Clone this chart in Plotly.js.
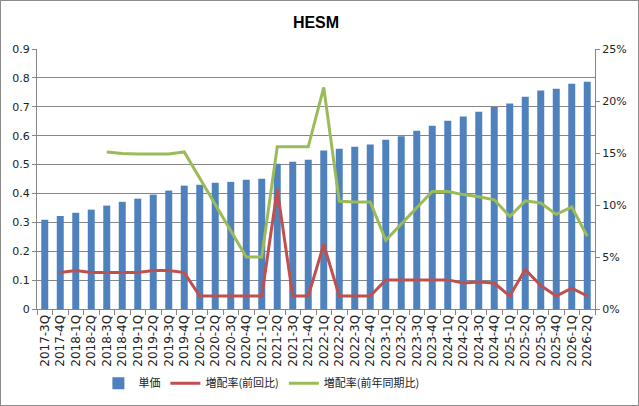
<!DOCTYPE html>
<html>
<head>
<meta charset="utf-8">
<script src="https://cdn.plot.ly/plotly-3.0.1.min.js"></script>
<style>
html,body{margin:0;padding:0;background:#fff;}
#wrap{width:637px;height:404px;border:1px solid #8c8c8c;}
#chart{width:637px;height:404px;}
</style>
</head>
<body>
<div id="wrap"><div id="chart"></div></div>
<script>
var categories = ["2017-3Q","2017-4Q","2018-1Q","2018-2Q","2018-3Q","2018-4Q","2019-1Q","2019-2Q","2019-3Q","2019-4Q",
"2020-1Q","2020-2Q","2020-3Q","2020-4Q","2021-1Q","2021-2Q","2021-3Q","2021-4Q","2022-1Q","2022-2Q",
"2022-3Q","2022-4Q","2023-1Q","2023-2Q","2023-3Q","2023-4Q","2024-1Q","2024-2Q","2024-3Q","2024-4Q",
"2025-1Q","2025-2Q","2025-3Q","2025-4Q","2026-1Q","2026-2Q"];

var unitPrice = [0.309,0.322,0.333,0.344,0.358,0.371,0.382,0.396,0.410,0.427,
0.430,0.437,0.440,0.447,0.451,0.503,0.510,0.517,0.549,0.555,
0.562,0.569,0.586,0.598,0.617,0.634,0.652,0.666,0.683,0.699,
0.711,0.735,0.756,0.762,0.780,0.787];

var qoqRate = [null,0.035,0.037,0.035,0.035,0.035,0.035,0.037,0.037,0.035,
0.0125,0.0125,0.0125,0.0125,0.0125,0.115,0.0125,0.0125,0.062,0.0125,
0.0125,0.0125,0.028,0.028,0.028,0.028,0.028,0.025,0.026,0.025,
0.0125,0.038,0.0225,0.0125,0.020,0.0125];

var yoyRate = [null,null,null,null,0.151,0.1495,0.149,0.149,0.149,0.151,
0.126,0.101,0.075,0.050,0.050,0.156,0.156,0.156,0.213,0.1035,
0.103,0.103,0.066,0.082,0.098,0.113,0.113,0.110,0.108,0.105,
0.089,0.104,0.102,0.091,0.098,0.070];

var seriesNames = ["単価","増配率(前回比)","増配率(前年同期比)"];

var traces = [
  {type:'bar', x:categories, y:unitPrice, name:seriesNames[0],
   marker:{color:'#4F81BD'}, yaxis:'y'},
  {type:'scatter', mode:'lines', x:categories, y:qoqRate, name:seriesNames[1],
   line:{color:'#C0504D', width:3}, yaxis:'y2'},
  {type:'scatter', mode:'lines', x:categories, y:yoyRate, name:seriesNames[2],
   line:{color:'#9BBB59', width:3}, yaxis:'y2'}
];

var tickFont = {family:'DejaVu Sans, Liberation Sans, sans-serif', size:11, color:'#222'};
var xTickFont = {family:'DejaVu Sans, Liberation Sans, sans-serif', size:12, color:'#222'};

var layout = {
  width:637, height:404,
  margin:{l:36, r:43, t:48, b:96, pad:0},
  paper_bgcolor:'#fff', plot_bgcolor:'#fff',
  title:{text:'<b>HESM</b>', font:{family:'Liberation Sans, Arial, sans-serif', size:16, color:'#000'},
         x:0.5, xanchor:'center', y:0.946, yanchor:'middle', xref:'paper'},
  bargap:0.55,
  showlegend:true,
  legend:{orientation:'h', x:0.11, xanchor:'left', y:0.054, yanchor:'middle', yref:'container',
          font:{family:'Noto Sans CJK JP, sans-serif', size:11, color:'#222'},
          traceorder:'normal', itemwidth:30},
  xaxis:{type:'category', tickangle:-90, tickfont:xTickFont, automargin:false,
         showline:true, linecolor:'#868686', linewidth:1,
         ticks:'outside', tickson:'boundaries', ticklen:5, tickcolor:'#868686',
         showgrid:false, zeroline:false, fixedrange:true},
  yaxis:{range:[0,0.9], dtick:0.1, tick0:0, tickformat:'.1~f', tickfont:tickFont, automargin:false,
         showline:true, linecolor:'#868686', linewidth:1,
         ticks:'outside', ticklen:4, tickcolor:'#868686',
         showgrid:true, gridcolor:'#868686', gridwidth:1, zeroline:false},
  yaxis2:{range:[0,0.25], dtick:0.05, tick0:0, tickformat:'.0%', tickfont:tickFont, automargin:false,
          overlaying:'y', side:'right',
          showline:true, linecolor:'#868686', linewidth:1,
          ticks:'outside', ticklen:4, tickcolor:'#868686',
          showgrid:false, zeroline:false}
};

Plotly.newPlot('chart', traces, layout, {displayModeBar:false, staticPlot:true});
</script>
</body>
</html>
